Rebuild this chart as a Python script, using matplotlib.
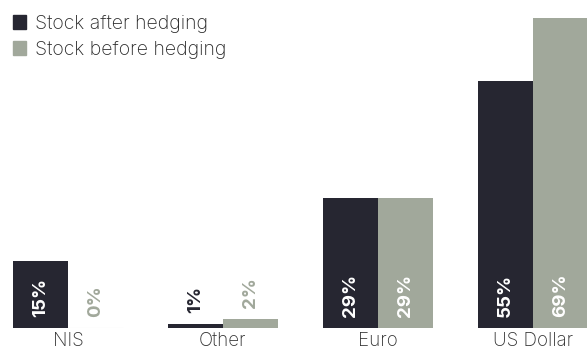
import numpy as np
import matplotlib.pyplot as plt
from matplotlib.patches import Patch

categories = ['NIS', 'Other', 'Euro', 'US Dollar']
after_hedging = [15, 1, 29, 55]
before_hedging = [0, 2, 29, 69]
series_names = ['Stock after hedging', 'Stock before hedging']

DARK = '#262631'
GREY = '#a1a89b'
FONT = ['Inter', 'DejaVu Sans']


def main():
    plt.rcParams['font.family'] = FONT
    fig = plt.figure(figsize=(5.87, 3.49), dpi=100)
    ax = fig.add_axes([0, 21 / 349, 1, 328 / 349])

    x = np.arange(len(categories))
    w = 55 / 155
    ax.bar(x - w / 2, after_hedging, w, color=DARK, linewidth=0)
    bars = ax.bar(x + w / 2, before_hedging, w, color=GREY, linewidth=0)
    # zero-height bar still gets a hairline so the slot is visible
    for b, v in zip(bars, before_hedging):
        if v == 0:
            b.set_edgecolor('#e2e2e2')
            b.set_linewidth(0.8)

    label_y = 2.4
    for i in range(len(categories)):
        for off, v, col in ((-w / 2, after_hedging[i], DARK),
                            (w / 2, before_hedging[i], GREY)):
            inside = v > 8
            ax.text(i + off, label_y if inside else max(v, 0) + label_y,
                    '%d%%' % v, rotation=90, ha='center', va='bottom',
                    fontsize=13.5, fontweight='bold',
                    color='white' if inside else col)

    ax.set_xlim(-68 / 155, 3 + 54 / 155)
    ax.set_ylim(0, 328 / 4.5)
    ax.axis('off')

    for i, c in enumerate(categories):
        ax.text(i, -0.9, c, ha='center', va='top', fontsize=13.5,
                fontweight='light', color='#333333', clip_on=False)

    handles = [Patch(color=DARK), Patch(color=GREY)]
    fig.legend(handles, series_names, loc='upper left',
               bbox_to_anchor=(0.012, 0.975), frameon=False,
               handlelength=0.7, handleheight=0.7, handletextpad=0.45,
               labelspacing=0.42, borderaxespad=0.0, borderpad=0.3,
               prop={'family': FONT, 'size': 14, 'weight': 'light'})
    for t in fig.legends[0].get_texts():
        t.set_color('#2a2a2a')

    fig.savefig('out.png', dpi=100)


if __name__ == '__main__':
    main()
